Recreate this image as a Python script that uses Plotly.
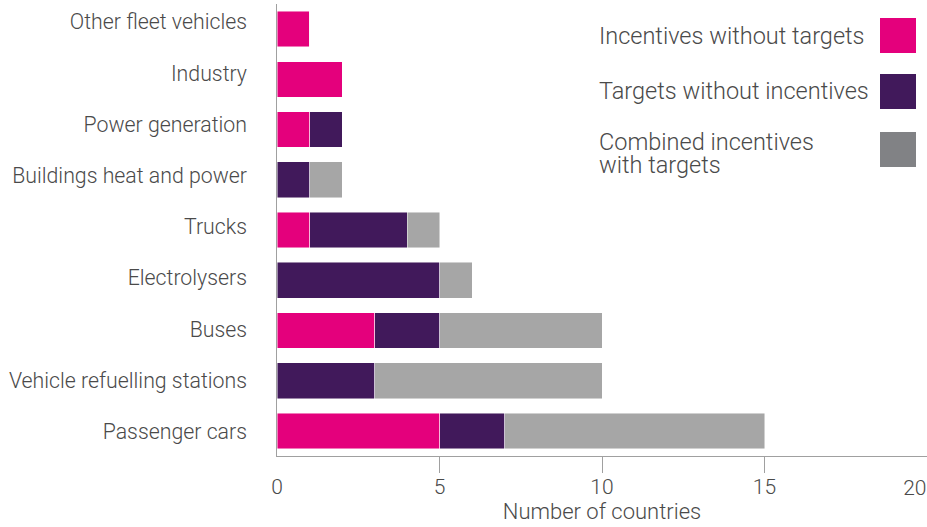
import plotly.graph_objects as go

categories = ["Other fleet vehicles", "Industry", "Power generation",
              "Buildings heat and power", "Trucks", "Electrolysers", "Buses",
              "Vehicle refuelling stations", "Passenger cars"]
incentives_without_targets = [1, 2, 1, 0, 1, 0, 3, 0, 5]
targets_without_incentives = [0, 0, 1, 1, 3, 5, 2, 3, 2]
combined_incentives_with_targets = [0, 0, 0, 1, 1, 1, 5, 7, 8]
series_names = ["Incentives without targets", "Targets without incentives",
                "Combined incentives with targets"]
legend_lines = [["Incentives without targets"], ["Targets without incentives"],
                ["Combined incentives", "with targets"]]
x_ticks = [0, 5, 10, 15, 20]

colors = ["#E4007C", "#41195B", "#A6A6A6"]
legend_colors = ["#E4007C", "#41195B", "#818285"]
FONT = "Roboto, Liberation Sans, sans-serif"
TXT = "#4a4a4a"
AX = "#a0a0a0"

fig = go.Figure()
for name, vals, col in zip(series_names,
                           [incentives_without_targets, targets_without_incentives,
                            combined_incentives_with_targets], colors):
    fig.add_trace(go.Bar(y=categories, x=vals, orientation="h", name=name,
                         marker=dict(color=col, line=dict(color="rgba(255,255,255,0.6)", width=0.8)),
                         showlegend=False))
# empty helper traces so the overlay axes (tick labels only) are drawn
fig.add_trace(go.Scatter(x=[], y=[], xaxis="x2", showlegend=False, hoverinfo="skip"))
fig.add_trace(go.Scatter(x=[], y=[], xaxis="x3", showlegend=False, hoverinfo="skip"))
fig.add_trace(go.Scatter(x=[], y=[], yaxis="y2", showlegend=False, hoverinfo="skip"))

# custom legend (text left, swatch right)
W, H, L, T, B, R = 927, 527, 277, 4, 71, 0
pw, ph = W - L - R, H - T - B
def px(x): return (x - L) / pw
def py(y): return (H - B - y) / ph

sw = [(18, 53), (74, 109), (132, 167)]
txt_y = [[36], [91], [142, 165]]
for lines, col, (a, b), tys in zip(legend_lines, legend_colors, sw, txt_y):
    fig.add_shape(type="rect", xref="paper", yref="paper",
                  x0=px(880), x1=px(916), y0=py(b), y1=py(a),
                  fillcolor=col, line=dict(width=0))
    for line, ty in zip(lines, tys):
        fig.add_annotation(xref="paper", yref="paper", x=px(597), y=py(ty),
                           text=line, showarrow=False, xanchor="left", yanchor="middle",
                           align="left", font=dict(family=FONT, size=23.5, color=TXT, weight=300))

fig.update_layout(
    width=W, height=H, barmode="stack", bargap=0.29,
    margin=dict(l=L, r=R, t=T, b=B, autoexpand=False),
    paper_bgcolor="white", plot_bgcolor="white",
    font=dict(family=FONT, size=21.3, color=TXT, weight=300),
)
common = dict(range=[0, 20], showgrid=False, zeroline=False, automargin=False,
              ticklen=16, tickfont=dict(size=21), ticklabeloverflow="allow")
fig.update_layout(
    xaxis=dict(**common, tickvals=x_ticks[1:], ticktext=[str(v) for v in x_ticks[1:-1]] + [""],
               ticklabelstandoff=-4,
               showline=True, linecolor=AX, linewidth=1, ticks="outside", tickcolor=AX,
               title=dict(text="Number of countries", standoff=2, font=dict(size=22))),
    xaxis2=dict(**common, overlaying="x", anchor="y", side="bottom", showline=False,
                tickvals=x_ticks[:1], ticktext=[str(x_ticks[0])], ticklabelstandoff=-4,
                ticks="outside", tickcolor="rgba(0,0,0,0)"),
    xaxis3=dict(**common, overlaying="x", anchor="y", side="bottom", showline=False,
                tickvals=x_ticks[-1:], ticktext=[str(x_ticks[-1])], ticklabelstandoff=13,
                ticks="outside", tickcolor="rgba(0,0,0,0)", ticklabelposition="outside left"),
    yaxis=dict(autorange="reversed", showgrid=False, zeroline=False, showline=True,
               linecolor=AX, linewidth=1, ticks="", showticklabels=False, automargin=False),
    # category labels (slightly wider spacing than the bars, as in the original)
    yaxis2=dict(overlaying="y", side="left", anchor="x", range=[8.477, -0.352],
                tickvals=list(range(len(categories))), ticktext=categories,
                showgrid=False, zeroline=False, showline=False, ticks="",
                ticklabelstandoff=29, automargin=False, tickfont=dict(size=21.3)),
)

fig.write_html("out.html", config={"displayModeBar": False},
               post_script="document.body.style.margin='0';document.body.style.overflow='hidden';")
